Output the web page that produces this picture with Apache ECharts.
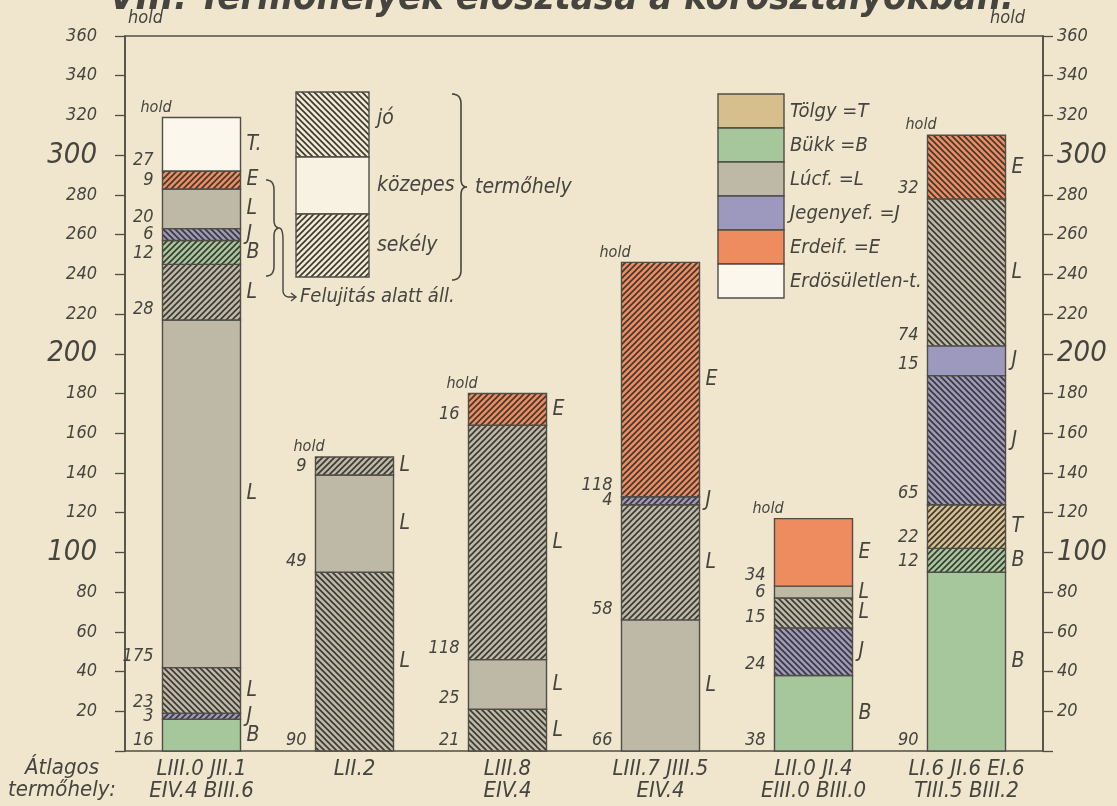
<!DOCTYPE html>
<html>
<head>
<meta charset="utf-8">
<script src="https://cdn.jsdelivr.net/npm/echarts@6/dist/echarts.min.js"></script>
<style>
  html, body { margin: 0; padding: 0; background: #efe6cd; }
  #chart { width: 1117px; height: 806px; }
</style>
</head>
<body>
<div id="chart"></div>
<script>
// átlagos termőhely under each bar
const categories = [
  'LIII.0 JII.1\nEIV.4 BIII.6',
  'LII.2',
  'LIII.8\nEIV.4',
  'LIII.7 JIII.5\nEIV.4',
  'LII.0 JI.4\nEIII.0 BIII.0',
  'LI.6 JI.6 EI.6\nTIII.5 BIII.2'
]

// segments bottom -> top, hold values
// kind: T tölgy, B bükk, L lúcfenyő, J jegenyefenyő, E erdeifenyő, N erdősületlen
// site: j = jó, k = közepes, s = sekély
const bar1 = [16, 3, 23, 175, 28, 12, 6, 20, 9, 27]
const bar1Kind = ['B', 'J', 'L', 'L', 'L', 'B', 'J', 'L', 'E', 'N']
const bar1Site = ['k', 's', 'j', 'k', 's', 's', 'j', 'k', 's', 'k']

const bar2 = [90, 49, 9]
const bar2Kind = ['L', 'L', 'L']
const bar2Site = ['j', 'k', 's']

const bar3 = [21, 25, 118, 16]
const bar3Kind = ['L', 'L', 'L', 'E']
const bar3Site = ['j', 'k', 's', 's']

const bar4 = [66, 58, 4, 118]
const bar4Kind = ['L', 'L', 'J', 'E']
const bar4Site = ['k', 's', 's', 's']

const bar5 = [38, 24, 15, 6, 34]
const bar5Kind = ['B', 'J', 'L', 'L', 'E']
const bar5Site = ['k', 'j', 'j', 'k', 'k']

const bar6 = [90, 12, 22, 65, 15, 74, 32]
const bar6Kind = ['B', 'B', 'T', 'J', 'J', 'L', 'E']
const bar6Site = ['k', 's', 's', 'j', 'k', 'j', 'j']

const bigTicks = [100, 200, 300]

const legendKinds = ['T', 'B', 'L', 'J', 'E', 'N']
const legendNames = ['Tölgy =T', 'Bükk =B', 'Lúcf. =L', 'Jegenyef. =J', 'Erdeif. =E', 'Erdösületlen-t.']
const siteNames = ['jó', 'közepes', 'sekély']

const kindColor = { T: '#d7bf8d', B: '#a6c79c', L: '#bdb9a6', J: '#9d98bd', E: '#ee8b5f', N: '#fbf7ec' }
const kindLetter = { T: 'T', B: 'B', L: 'L', J: 'J', E: 'E', N: 'T.' }
const ink = '#46443f'
const FONT = '"Liberation Sans Narrow", "DejaVu Sans Condensed", "Roboto", sans-serif'

// hatch tiles
const patternCache = {}
function hatch(color, site) {
  const key = color + site
  if (patternCache[key]) return patternCache[key]
  if (site === 'k') return (patternCache[key] = color)
  const s = 6
  const c = document.createElement('canvas')
  c.width = c.height = s
  const g = c.getContext('2d')
  g.fillStyle = color
  g.fillRect(0, 0, s, s)
  g.strokeStyle = '#3a3833'
  g.lineWidth = 1.6
  g.beginPath()
  if (site === 'j') {
    // "\" lines
    g.moveTo(-1, -1); g.lineTo(s + 1, s + 1)
    g.moveTo(-1, s - 1); g.lineTo(1, s + 1)
    g.moveTo(s - 1, -1); g.lineTo(s + 1, 1)
  } else {
    // "/" lines
    g.moveTo(-1, s + 1); g.lineTo(s + 1, -1)
    g.moveTo(-1, 1); g.lineTo(1, -1)
    g.moveTo(s - 1, s + 1); g.lineTo(s + 1, s - 1)
  }
  g.stroke()
  return (patternCache[key] = { image: c, repeat: 'repeat' })
}

// stack the segments
const bars = [
  [bar1, bar1Kind, bar1Site],
  [bar2, bar2Kind, bar2Site],
  [bar3, bar3Kind, bar3Site],
  [bar4, bar4Kind, bar4Site],
  [bar5, bar5Kind, bar5Site],
  [bar6, bar6Kind, bar6Site]
]
const segments = []
bars.forEach(([vals, kinds, sites], cat) => {
  let base = 0
  vals.forEach((v, i) => {
    segments.push({ cat, base, value: v, kind: kinds[i], site: sites[i], top: i === vals.length - 1 })
    base += v
  })
})

function renderItem(params, api) {
  const seg = segments[params.dataIndex]
  const lo = api.coord([api.value(0), api.value(1)])
  const hi = api.coord([api.value(0), api.value(1) + api.value(2)])
  const w = api.size([1, 0])[0] * 0.51
  const x = lo[0] - w / 2
  const h = lo[1] - hi[1]
  const children = [{
    type: 'rect',
    shape: { x: x, y: hi[1], width: w, height: h },
    style: { fill: hatch(kindColor[seg.kind], seg.site), stroke: '#4f4d46', lineWidth: 1.4 }
  }, {
    type: 'text',
    style: {
      text: String(seg.value), x: x - 9, y: Math.max(lo[1] - 2, lo[1] - h / 2 + 9),
      align: 'right', verticalAlign: 'bottom', fill: ink, font: 'italic 18px ' + FONT
    }
  }, {
    type: 'text',
    style: {
      text: kindLetter[seg.kind], x: x + w + 6, y: lo[1] - h / 2,
      align: 'left', verticalAlign: 'middle', fill: ink, font: 'italic 21px ' + FONT
    }
  }]
  if (seg.top) {
    children.push({
      type: 'text',
      style: {
        text: 'hold', x: x - 22, y: hi[1] - 2,
        align: 'left', verticalAlign: 'bottom', fill: ink, font: 'italic 16px ' + FONT
      }
    })
  }
  return { type: 'group', children: children }
}

// points of a "}" brace
function quad(p0, p1, p2, out) {
  for (let t = 0.1; t <= 1.0001; t += 0.1) {
    const a = (1 - t) * (1 - t), b = 2 * (1 - t) * t, c = t * t
    out.push([a * p0[0] + b * p1[0] + c * p2[0], a * p0[1] + b * p1[1] + c * p2[1]])
  }
}
function brace(x0, y0, y1, d) {
  const m = (y0 + y1) / 2
  const xs = x0 + d
  const pts = [[x0, y0]]
  quad([x0, y0], [xs, y0], [xs, y0 + 10], pts)
  pts.push([xs, m - 8])
  quad([xs, m - 8], [xs, m], [xs + 6, m], pts)
  quad([xs + 6, m], [xs, m], [xs, m + 8], pts)
  pts.push([xs, y1 - 10])
  quad([xs, y1 - 10], [xs, y1], [x0, y1], pts)
  return pts
}

const graphics = []
// cut off title
graphics.push({
  type: 'text', x: 562, y: -20,
  style: { text: 'VIII. Termőhelyek elosztása a korosztályokban:', fill: ink, align: 'center', font: 'italic bold 38px ' + FONT }
})
graphics.push({ type: 'text', x: 128, y: 9, style: { text: 'hold', fill: ink, font: 'italic 18px ' + FONT } })
graphics.push({ type: 'text', x: 990, y: 9, style: { text: 'hold', fill: ink, font: 'italic 18px ' + FONT } })
graphics.push({
  type: 'text', x: 62, y: 757,
  style: { text: 'Átlagos\ntermőhely:', fill: ink, align: 'center', lineHeight: 22, font: 'italic 22px ' + FONT }
})

// termőhely legend
const siteY = [92, 157, 214, 277]
;['j', 'k', 's'].forEach((s, i) => {
  graphics.push({
    type: 'rect',
    shape: { x: 296, y: siteY[i], width: 73, height: siteY[i + 1] - siteY[i] },
    style: { fill: hatch(s === 'k' ? '#f8f2e2' : '#f1e9d2', s), stroke: '#4f4d46', lineWidth: 1.4 }
  })
  graphics.push({
    type: 'text', x: 377, y: (siteY[i] + siteY[i + 1]) / 2 + (i === 0 ? -6 : 0),
    style: { text: siteNames[i], fill: ink, verticalAlign: 'middle', font: 'italic 21px ' + FONT }
  })
})
graphics.push({ type: 'polyline', shape: { points: brace(452, 94, 280, 9) }, style: { fill: null, stroke: ink, lineWidth: 1.6 } })
graphics.push({ type: 'text', x: 475, y: 188, style: { text: 'termőhely', fill: ink, verticalAlign: 'middle', font: 'italic 21px ' + FONT } })

// felújítás bracket and arrow
graphics.push({ type: 'polyline', shape: { points: brace(266, 180, 276, 8) }, style: { fill: null, stroke: ink, lineWidth: 1.5 } })
const arrowPts = [[280, 228]]
quad([280, 228], [283, 230], [283, 240], arrowPts)
arrowPts.push([283, 290])
quad([283, 290], [283, 297], [290, 297], arrowPts)
arrowPts.push([296, 297])
graphics.push({ type: 'polyline', shape: { points: arrowPts }, style: { fill: null, stroke: ink, lineWidth: 1.4 } })
graphics.push({ type: 'polyline', shape: { points: [[291, 293], [296, 297], [291, 301]] }, style: { fill: null, stroke: ink, lineWidth: 1.4 } })
graphics.push({ type: 'text', x: 300, y: 297, style: { text: 'Felujitás alatt áll.', fill: ink, verticalAlign: 'middle', font: 'italic 20px ' + FONT } })

// species legend
legendKinds.forEach((k, i) => {
  const y = 94 + i * 34
  graphics.push({
    type: 'rect', shape: { x: 718, y: y, width: 66, height: 34 },
    style: { fill: kindColor[k], stroke: '#4f4d46', lineWidth: 1.4 }
  })
  graphics.push({
    type: 'text', x: 790, y: y + 18,
    style: { text: legendNames[i], fill: ink, verticalAlign: 'middle', font: 'italic 20px ' + FONT }
  })
})

const tickFormatter = v => (v === 0 ? '' : bigTicks.includes(v) ? '{b|' + v + '}' : String(v))
const axisLabelStyle = {
  color: ink, fontStyle: 'italic', fontFamily: FONT, fontSize: 18,
  formatter: tickFormatter,
  rich: { b: { fontSize: 29, fontStyle: 'italic', fontFamily: FONT, color: ink } }
}

const myChart = echarts.init(document.getElementById('chart'))
myChart.setOption({
  backgroundColor: '#efe6cd',
  animation: false,
  grid: { left: 125, right: 74, top: 36, bottom: 55, show: true, borderColor: '#4f4d47', borderWidth: 1.5, backgroundColor: 'transparent' },
  xAxis: {
    type: 'category',
    data: categories,
    axisLine: { show: false },
    axisTick: { show: false },
    axisLabel: { color: ink, fontStyle: 'italic', fontFamily: FONT, fontSize: 22, lineHeight: 22, margin: 7 }
  },
  yAxis: [{
    type: 'value', min: 0, max: 360, interval: 20, position: 'left',
    splitLine: { show: false },
    axisLine: { show: true, lineStyle: { color: '#4f4d47', width: 1.5 } },
    axisTick: { show: true, length: 10, lineStyle: { color: '#4f4d47', width: 1.3 } },
    axisLabel: Object.assign({ margin: 28 }, axisLabelStyle)
  }, {
    type: 'value', min: 0, max: 360, interval: 20, position: 'right',
    splitLine: { show: false },
    axisLine: { show: true, lineStyle: { color: '#4f4d47', width: 1.5 } },
    axisTick: { show: true, length: 10, lineStyle: { color: '#4f4d47', width: 1.3 } },
    axisLabel: Object.assign({ margin: 14 }, axisLabelStyle)
  }],
  series: [{
    type: 'custom',
    silent: true,
    renderItem: renderItem,
    encode: { x: 0, y: [1, 2] },
    data: segments.map(s => [s.cat, s.base, s.value])
  }],
  graphic: graphics
})
</script>
</body>
</html>
